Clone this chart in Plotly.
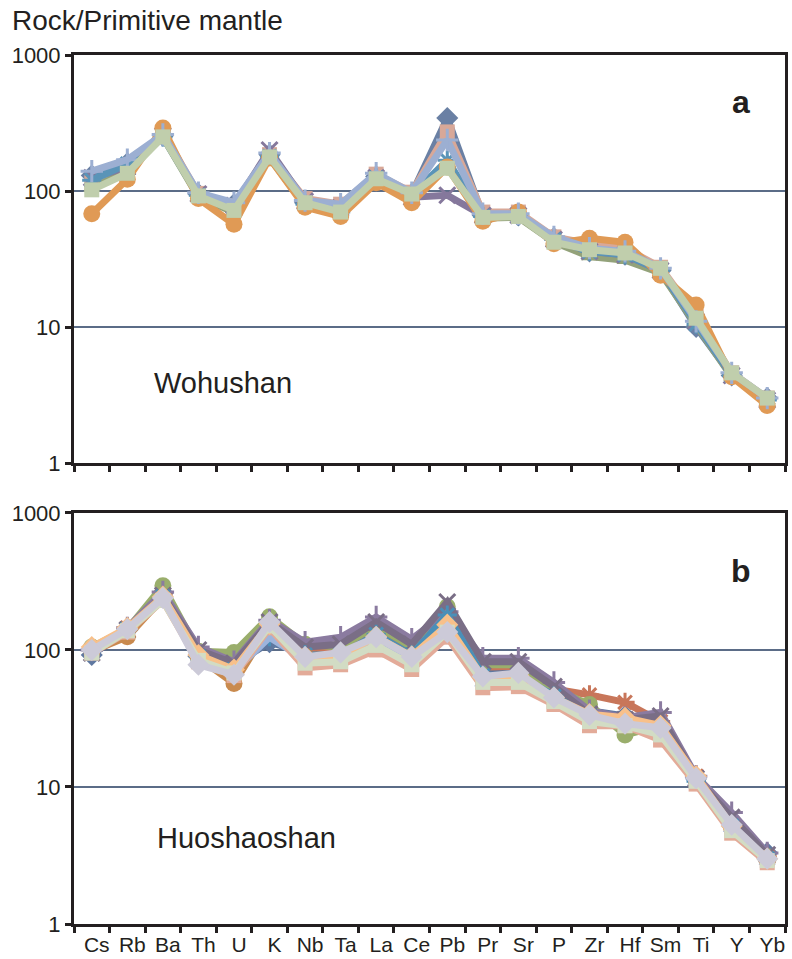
import plotly.graph_objects as go

elements = ["Cs", "Rb", "Ba", "Th", "U", "K", "Nb", "Ta", "La", "Ce",
            "Pb", "Pr", "Sr", "P", "Zr", "Hf", "Sm", "Ti", "Y", "Yb"]
y_ticks = [1, 10, 100, 1000]
y_tick_labels = ["1", "10", "100", "1000"]

# ---- Panel a: Wohushan ----
wo_s1 = [130, 160, 255, 95, 80, 185, 82, 74, 128, 95, 344, 66, 66, 45, 36, 34, 26, 10.0, 4.4, 3.0]
wo_s2 = [115, 145, 270, 96, 78, 185, 88, 80, 133, 98, 272, 70, 70, 46, 41, 38, 27.5, 12.0, 4.6, 3.0]
wo_s3 = [105, 140, 250, 90, 70, 175, 78, 68, 120, 92, 160, 63, 64, 42, 33, 31, 25, 10.5, 4.3, 2.9]
wo_s4 = [125, 150, 255, 95, 78, 200, 84, 75, 125, 90, 93, 66, 66, 44, 36, 34, 26, 11.0, 4.4, 2.9]
wo_s5 = [120, 158, 250, 93, 76, 180, 80, 70, 125, 93, 168, 65, 66, 44, 36, 34, 26, 10.5, 4.4, 2.9]
wo_s6 = [68, 122, 290, 88, 57, 175, 76, 65, 115, 82, 150, 60, 70, 41, 45, 42, 24, 14.5, 4.3, 2.65]
wo_s7 = [140, 170, 260, 97, 82, 190, 85, 80, 135, 97, 237, 68, 68, 46, 38, 36, 27, 11.0, 4.6, 3.0]
wo_s8 = [102, 135, 250, 92, 72, 178, 82, 70, 123, 95, 147, 64, 65, 42, 37, 35, 27, 11.6, 4.6, 3.0]

# ---- Panel b: Huoshaoshan ----
hu_s1 = [92, 140, 260, 90, 78, 114, 95, 95, 125, 95, 170, 70, 72, 50, 36, 33, 28, 11.5, 5.6, 3.3]
hu_s2 = [100, 145, 255, 95, 80, 150, 100, 100, 140, 100, 165, 75, 76, 52, 47, 41.5, 30, 12.0, 5.5, 3.1]
hu_s3 = [105, 142, 294, 98, 96, 175, 110, 105, 150, 105, 207, 78, 78, 52, 40, 24, 28, 11.0, 5.4, 3.1]
hu_s4 = [100, 145, 265, 105, 82, 165, 114, 124, 174, 120, 190, 87, 87, 58, 36, 32, 35, 12.0, 6.5, 3.3]
hu_s5 = [95, 140, 250, 100, 80, 160, 105, 110, 160, 110, 224, 82, 82, 54, 34, 31, 33, 11.5, 6.0, 3.2]
hu_s6 = [100, 142, 245, 90, 72, 125, 92, 92, 130, 92, 180, 65, 65, 46, 33, 30, 27, 11.0, 5.2, 3.0]
hu_s7 = [98, 125, 240, 88, 57, 150, 90, 88, 120, 85, 140, 62, 62, 44, 32, 30, 26, 11.5, 5.0, 2.9]
hu_s8 = [105, 140, 240, 88, 70, 124, 85, 85, 115, 82, 150, 58, 60, 44, 32, 29, 26, 11.0, 5.0, 2.9]
hu_s9 = [95, 135, 230, 82, 65, 145, 74, 78, 100, 72, 124, 53, 54, 40, 28, 28, 22, 10.5, 4.6, 2.8]
hu_s10 = [105, 145, 245, 92, 72, 155, 88, 90, 125, 90, 153, 63, 65, 45, 34, 32, 28, 12.0, 5.2, 3.0]
hu_s11 = [95, 138, 230, 84, 68, 150, 80, 82, 108, 78, 135, 58, 58, 42, 30, 28, 24, 11.0, 4.8, 2.9]
hu_s12 = [100, 142, 240, 78, 66, 160, 89, 96, 124, 89, 135, 64, 68, 45, 33.5, 29, 27, 11.6, 5.3, 3.0]

wo_series = [
    (wo_s1, "#6a80a4", "diamond"),
    (wo_s2, "#d8a898", "square"),
    (wo_s3, "#93a27a", "triangle-up"),
    (wo_s4, "#85789c", "x-thin"),
    (wo_s5, "#5a94b8", "asterisk"),
    (wo_s6, "#e09a55", "circle"),
    (wo_s7, "#9cafd2", "cross-thin"),
    (wo_s8, "#c0ceac", "square"),
]
hu_series = [
    (hu_s1, "#5f78a0", "diamond"),
    (hu_s2, "#c8765a", "asterisk"),
    (hu_s3, "#9aae6c", "circle"),
    (hu_s4, "#8b7ba0", "cross-thin"),
    (hu_s5, "#7a6e86", "x-thin"),
    (hu_s6, "#4a8fb8", "asterisk"),
    (hu_s7, "#c98a4e", "circle"),
    (hu_s8, "#9db4dc", "triangle-up"),
    (hu_s9, "#e3ab99", "square"),
    (hu_s10, "#f8c08a", "diamond"),
    (hu_s11, "#d2dcc4", "square"),
    (hu_s12, "#cccad8", "diamond"),
]

marker_sizes = {"diamond": 17, "square": 15, "triangle-up": 15, "circle": 17,
                "x-thin": 16, "asterisk": 16, "cross-thin": 16}

fig = go.Figure()

def add_series(vals, color, symbol, xa, ya):
    thin = symbol in ("x-thin", "asterisk", "cross-thin")
    marker = dict(symbol=symbol, size=marker_sizes[symbol], color=color,
                  line=dict(color=color, width=3 if thin else 0))
    fig.add_trace(go.Scatter(x=elements, y=vals, mode="lines+markers",
                             line=dict(color=color, width=7), marker=marker,
                             xaxis=xa, yaxis=ya, showlegend=False,
                             hoverinfo="skip"))

for vals, c, s in wo_series:
    add_series(vals, c, s, "x", "y")
for vals, c, s in hu_series:
    add_series(vals, c, s, "x2", "y2")

font_fam = "Liberation Sans, Arial, sans-serif"
grid_col = "#5b6c87"

xcommon = dict(type="category", range=[-0.5, 19.5], showline=True, linewidth=3,
               linecolor="#231f20", mirror=True, ticks="outside", ticklen=6,
               tickwidth=3, tickcolor="#231f20", tickson="boundaries",
               showgrid=False, zeroline=False, tickangle=0, automargin=False,
               tickfont=dict(size=21, color="#231f20", family=font_fam))
ycommon = dict(type="log", range=[0, 3], tickvals=y_ticks, ticktext=y_tick_labels,
               showline=True, linewidth=3, linecolor="#231f20", mirror=True,
               ticks="outside", ticklen=6, tickwidth=3, tickcolor="#231f20",
               showgrid=True, gridcolor=grid_col, gridwidth=2, zeroline=False,
               automargin=False,
               tickfont=dict(size=22, color="#231f20", family=font_fam))

fig.update_layout(
    width=792, height=959,
    margin=dict(l=74, r=7, t=55, b=35),
    paper_bgcolor="white", plot_bgcolor="white",
    font=dict(family=font_fam, color="#231f20"),
    xaxis=dict(xcommon, anchor="y", showticklabels=False),
    yaxis=dict(ycommon, anchor="x", domain=[0.5305, 1.0]),
    xaxis2=dict(xcommon, anchor="y2", ticklabelshift=5),
    yaxis2=dict(ycommon, anchor="x2", domain=[0.0, 0.473]),
    annotations=[
        dict(text="Rock/Primitive mantle", xref="paper", yref="paper",
             x=-74 / 711 + 10 / 711, y=1.0 + 52 / 869, xanchor="left", yanchor="top",
             showarrow=False, font=dict(size=28, color="#231f20")),
        dict(text="a", xref="x", yref="y domain", x=18.25, y=0.885,
             xanchor="center", yanchor="middle", showarrow=False,
             font=dict(size=32, color="#231f20", family="Liberation Sans, Arial", weight="bold")),
        dict(text="b", xref="x2", yref="y2 domain", x=18.25, y=0.86,
             xanchor="center", yanchor="middle", showarrow=False,
             font=dict(size=32, color="#231f20", family="Liberation Sans, Arial", weight="bold")),
        dict(text="Wohushan", xref="paper", yref="y domain", x=78 / 711, y=(463 - 383) / 408,
             xanchor="left", yanchor="middle", showarrow=False,
             font=dict(size=29, color="#231f20")),
        dict(text="Huoshaoshan", xref="paper", yref="y2 domain", x=81 / 711, y=(924 - 838) / 411,
             xanchor="left", yanchor="middle", showarrow=False,
             font=dict(size=29, color="#231f20")),
    ],
)

fig.write_html("out.html")
